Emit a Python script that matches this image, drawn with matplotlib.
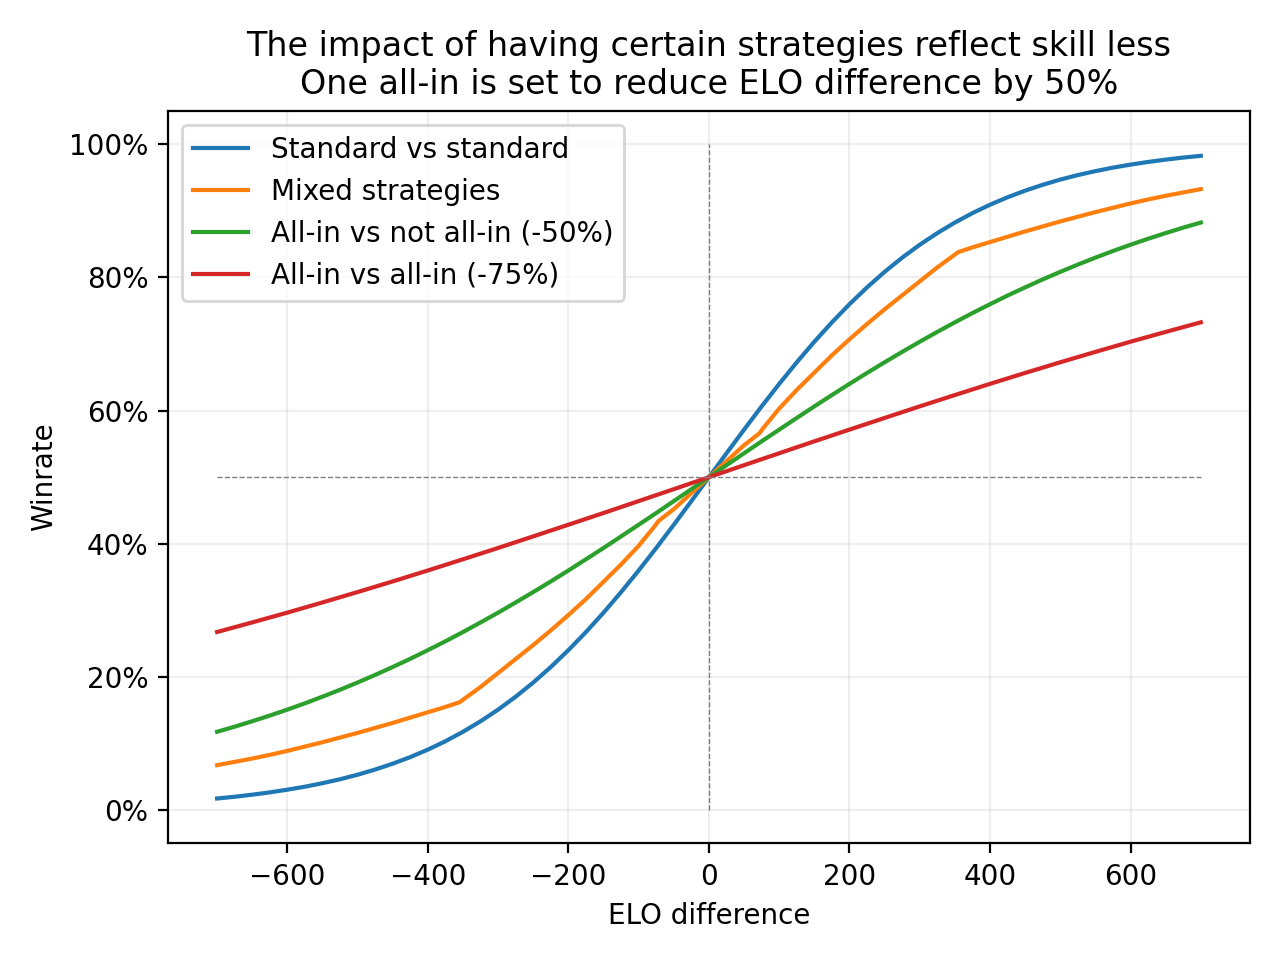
import matplotlib
matplotlib.use("Agg")
import matplotlib.pyplot as plt
from matplotlib.ticker import PercentFormatter

elo = [-700, -675, -650, -625, -600, -575, -550, -525, -500, -475, -450, -425, -400, -375,
       -350, -325, -300, -275, -250, -225, -200, -175, -150, -125, -100, -75, -50, -25, 0,
       25, 50, 75, 100, 125, 150, 175, 200, 225, 250, 275, 300, 325, 350, 375,
       400, 425, 450, 475, 500, 525, 550, 575, 600, 625, 650, 675, 700]

standard = [0.0175, 0.0201, 0.0232, 0.0267, 0.0307, 0.0352, 0.0405, 0.0464, 0.0532, 0.0610,
            0.0698, 0.0797, 0.0909, 0.1035, 0.1177, 0.1335, 0.1510, 0.1704, 0.1917, 0.2150,
            0.2403, 0.2675, 0.2966, 0.3275, 0.3599, 0.3937, 0.4286, 0.4641, 0.5000,
            0.5359, 0.5714, 0.6063, 0.6401, 0.6725, 0.7034, 0.7325, 0.7597, 0.7850, 0.8083,
            0.8296, 0.8490, 0.8665, 0.8823, 0.8965, 0.9091, 0.9203, 0.9302, 0.9390, 0.9468,
            0.9536, 0.9595, 0.9648, 0.9693, 0.9733, 0.9768, 0.9799, 0.9825]

allin_vs_std = [0.1177, 0.1253, 0.1335, 0.1420, 0.1510, 0.1604, 0.1704, 0.1808, 0.1917, 0.2031,
                0.2150, 0.2273, 0.2403, 0.2536, 0.2675, 0.2819, 0.2966, 0.3119, 0.3275, 0.3435,
                0.3599, 0.3767, 0.3937, 0.4111, 0.4286, 0.4462, 0.4641, 0.4820, 0.5000,
                0.5180, 0.5359, 0.5538, 0.5714, 0.5889, 0.6063, 0.6233, 0.6401, 0.6565, 0.6725,
                0.6881, 0.7034, 0.7181, 0.7325, 0.7464, 0.7597, 0.7727, 0.7850, 0.7969, 0.8083,
                0.8192, 0.8296, 0.8396, 0.8490, 0.8580, 0.8665, 0.8747, 0.8823]

# almost straight, a coarser grid is enough
elo_coarse = [-700, -650, -600, -550, -500, -450, -400, -350, -300, -250, -200, -150, -100, -50, 0,
              50, 100, 150, 200, 250, 300, 350, 400, 450, 500, 550, 600, 650, 700]
allin_vs_allin = [0.2675, 0.2819, 0.2966, 0.3119, 0.3275, 0.3435, 0.3599, 0.3767, 0.3937, 0.4111,
                  0.4286, 0.4462, 0.4641, 0.4820, 0.5000, 0.5180, 0.5359, 0.5538, 0.5714, 0.5889,
                  0.6063, 0.6233, 0.6401, 0.6565, 0.6725, 0.6881, 0.7034, 0.7181, 0.7325]

# mixed curve has kinks, so it gets its own x points
elo_mixed = [-700, -675, -650, -625, -600, -575, -550, -525, -500, -475, -450, -425, -400, -375,
             -355, -325, -300, -275, -250, -225, -200, -175, -150, -125, -100, -76, -72, -50, -25,
             0, 25, 50, 72, 76, 100, 125, 150, 175, 200, 225, 250, 275, 300, 325, 355, 375,
             400, 425, 450, 475, 500, 525, 550, 575, 600, 625, 650, 675, 700]
mixed = [0.0675, 0.0725, 0.0775, 0.083, 0.089, 0.0955, 0.102, 0.109, 0.116, 0.1235, 0.131, 0.139,
         0.147, 0.155, 0.162, 0.185, 0.206, 0.227, 0.248, 0.270, 0.293, 0.317, 0.343, 0.369,
         0.397, 0.428, 0.434, 0.452, 0.476,
         0.500, 0.524, 0.548, 0.566, 0.572, 0.603, 0.631, 0.657, 0.683, 0.707, 0.730, 0.752,
         0.773, 0.794, 0.815, 0.838, 0.845, 0.853, 0.861, 0.869, 0.8765, 0.884, 0.891, 0.898,
         0.9045, 0.911, 0.917, 0.9225, 0.9275, 0.9325]

fig, ax = plt.subplots(figsize=(6.4, 4.8), dpi=200)

ax.plot(elo, standard, label="Standard vs standard")
ax.plot(elo_mixed, mixed, label="Mixed strategies")
ax.plot(elo, allin_vs_std, label="All-in vs not all-in (-50%)")
ax.plot(elo_coarse, allin_vs_allin, label="All-in vs all-in (-75%)")

ax.hlines(0.5, -700, 700, colors="gray", linestyles="--", linewidth=0.5)
ax.vlines(0, 0, 1, colors="gray", linestyles="--", linewidth=0.5)

ax.grid(alpha=0.2)
ax.yaxis.set_major_formatter(PercentFormatter(1.0, decimals=0))
ax.set_xlabel("ELO difference")
ax.set_ylabel("Winrate")
ax.set_title("The impact of having certain strategies reflect skill less\n"
             "One all-in is set to reduce ELO difference by 50%")
ax.legend(loc="upper left")

fig.tight_layout()
fig.savefig("out.png")
